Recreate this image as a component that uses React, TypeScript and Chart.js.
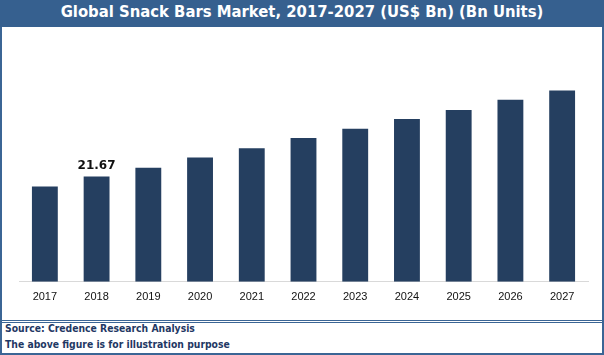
import React, { useEffect, useRef } from "react";
import { Chart, registerables } from "chart.js";

Chart.register(...registerables);

const years = ["2017", "2018", "2019", "2020", "2021", "2022", "2023", "2024", "2025", "2026", "2027"];
const marketValues = [19.6, 21.67, 23.5, 25.6, 27.5, 29.6, 31.5, 33.5, 35.4, 37.5, 39.4];
const labelledIndex = 1;
const titleText = "Global Snack Bars Market, 2017-2027 (US$ Bn) (Bn Units)";
const footerLines = ["Source: Credence Research Analysis", "The above figure is for illustration purpose"];

const BAR = "#253f60";
const FRAME = "#3b6595";

const valueLabelPlugin = {
  id: "valueLabel",
  afterDatasetsDraw(chart: any) {
    const meta = chart.getDatasetMeta(0);
    const el = meta.data[labelledIndex];
    if (!el) return;
    const ctx = chart.ctx;
    ctx.save();
    ctx.font = "bold 12px 'DejaVu Sans'";
    ctx.fillStyle = "#111";
    ctx.textAlign = "center";
    ctx.textBaseline = "bottom";
    ctx.fillText(marketValues[labelledIndex].toFixed(2), el.x, el.y - 5);
    ctx.restore();
  },
};

export default function App() {
  const ref = useRef<HTMLCanvasElement>(null);
  useEffect(() => {
    document.body.style.margin = "0";
    const chart = new Chart(ref.current!, {
      type: "bar",
      data: {
        labels: years,
        datasets: [
          {
            data: marketValues,
            backgroundColor: BAR,
            barPercentage: 0.5,
            categoryPercentage: 1,
          },
        ],
      },
      options: {
        animation: false,
        responsive: false,
        maintainAspectRatio: false,
        layout: { padding: { top: 12, left: 17, right: 14, bottom: 14 } },
        plugins: { legend: { display: false }, tooltip: { enabled: false } },
        scales: {
          x: {
            grid: { display: false },
            border: { color: "#d9d9d9", width: 1 },
            ticks: { color: "#111", font: { family: "'Liberation Sans'", size: 11 }, padding: 1 },
          },
          y: { display: false, min: 0, max: 50 },
        },
      },
      plugins: [valueLabelPlugin],
    });
    return () => chart.destroy();
  }, []);

  return (
    <div style={{ position: "relative", width: 604, height: 355, background: "#fff", overflow: "hidden" }}>
      <div
        style={{
          position: "absolute", left: 0, top: 0, width: 604, height: 27, background: "#36608f",
          color: "#fff", font: "bold 16.5px 'DejaVu Sans Condensed', 'DejaVu Sans'", lineHeight: "23px",
          textAlign: "center", whiteSpace: "nowrap",
        }}
      >
        {titleText}
      </div>
      <div
        style={{
          position: "absolute", left: 0, top: 27, width: 600, height: 326,
          borderLeft: `2px solid ${FRAME}`, borderRight: `2px solid ${FRAME}`, borderBottom: `2px solid ${FRAME}`,
        }}
      />
      <canvas ref={ref} width={600} height={292} style={{ position: "absolute", left: 2, top: 27 }} />
      <div style={{ position: "absolute", left: 2, top: 320, width: 600, height: 1, background: FRAME }} />
      <div style={{ position: "absolute", left: 2, top: 322, width: 600, height: 1, background: FRAME }} />
      {footerLines.map((t, i) => (
        <div
          key={i}
          style={{
            position: "absolute", left: 5, top: 321.5 + i * 16, height: 16, lineHeight: "16px",
            font: "bold 10.3px 'DejaVu Sans Condensed', 'DejaVu Sans'", color: "#1f3864", whiteSpace: "nowrap",
          }}
        >
          {t}
        </div>
      ))}
    </div>
  );
}
